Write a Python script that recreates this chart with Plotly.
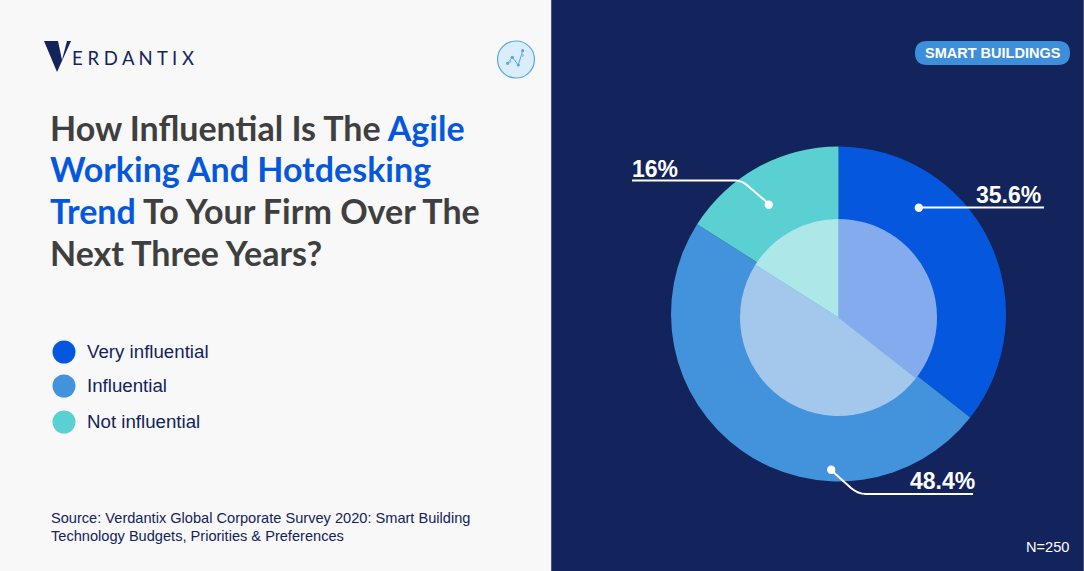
import plotly.graph_objects as go

categories = ["Very influential", "Influential", "Not influential"]
values = [35.6, 48.4, 16]
value_labels = ["35.6%", "48.4%", "16%"]
outer_colors = ["#0558de", "#4292dc", "#5bd0d3"]
inner_colors = ["#85abef", "#a3c8ec", "#ade7e7"]

title_lines = [
    'How Influential Is The <span style="color:#0558de">Agile</span>',
    '<span style="color:#0558de">Working And Hotdesking</span>',
    '<span style="color:#0558de">Trend</span> To Your Firm Over The',
    "Next Three Years?",
]
source_lines = [
    "Source: Verdantix Global Corporate Survey 2020: Smart Building",
    "Technology Budgets, Priorities &amp; Preferences",
]

W, H = 1084, 571
NAVY = "#13235b"
WHITE = "#ffffff"
ICON = "#58a6dc"


def dom(cx, cy, r):
    return dict(x=[(cx - r) / W, (cx + r) / W], y=[(H - cy - r) / H, (H - cy + r) / H])


def label(x, y, text, size, color, family="Liberation Sans", anchor="left"):
    return dict(x=x, y=y, xref="x", yref="y", text=text, showarrow=False, xanchor=anchor,
                yanchor="middle", borderpad=0, font=dict(size=size, color=color, family=family))


def dot(cx, cy, r, color):
    return dict(type="circle", x0=cx - r, x1=cx + r, y0=cy - r, y1=cy + r, fillcolor=color, line_width=0)


fig = go.Figure()

# donut plus the lighter pie on top of it
fig.add_trace(go.Pie(values=values, labels=categories, sort=False, direction="clockwise", rotation=0,
                     textinfo="none", hoverinfo="label+percent", domain=dom(838.5, 314, 167.5),
                     marker=dict(colors=outer_colors, line=dict(width=0)), showlegend=False))
fig.add_trace(go.Pie(values=values, labels=categories, sort=False, direction="clockwise", rotation=0,
                     textinfo="none", hoverinfo="label+percent", domain=dom(838.5, 317.5, 98.5),
                     marker=dict(colors=inner_colors, line=dict(width=0)), showlegend=False))

# legend swatches
legend_y = [352, 386, 422]
fig.add_trace(go.Scatter(x=[64, 64, 64], y=legend_y, mode="markers", hoverinfo="skip", showlegend=False,
                         marker=dict(size=23, color=outer_colors, line=dict(width=0))))

shapes = [
    dict(type="rect", x0=0, x1=551, y0=0, y1=H, fillcolor="#f8f8f8", line_width=0, layer="below"),
    dict(type="rect", x0=551, x1=W, y0=0, y1=H, fillcolor=NAVY, line_width=0, layer="below"),
    dict(type="rect", x0=551, x1=552, y0=0, y1=H, fillcolor="#4a5785", line_width=0, layer="below"),
    dict(type="rect", x0=1083, x1=W, y0=0, y1=H, fillcolor="#4a5785", line_width=0, layer="below"),
    # logo V
    dict(type="path", path="M44,41 L58,41 L62,60 L67,41 L71,41 L57,72 Z", fillcolor=NAVY, line_width=0),
    # icon
    dict(type="circle", x0=497.5, x1=534.5, y0=41, y1=78, fillcolor="#d9edfd",
         line=dict(color=ICON, width=1.2)),
    dict(type="path", path="M507.7,63.3 L512.3,57.3 L518.3,65 L522.7,50.7", line=dict(color=ICON, width=1)),
    dot(507.7, 63.3, 1.6, ICON), dot(512.3, 57.3, 1.6, ICON), dot(518.3, 65, 1.6, ICON),
    dot(522.7, 50.7, 1.6, ICON), dot(510, 61.5, 1.2, "#8cc3ea"), dot(522.5, 55.5, 1.4, "#8cc3ea"),
    # pill
    dict(type="path", path="M927,41 L1058,41 Q1070,41 1070,53 Q1070,65 1058,65 L927,65 Q915,65 915,53 Q915,41 927,41 Z",
         fillcolor="#3d8fdb", line_width=0),
    # leader lines
    dict(type="path", path="M918,207.5 L1044,207.5", line=dict(color=WHITE, width=2)),
    dict(type="path", path="M632,180.5 L735,180.5 Q742,180.5 748,186 L769,204", line=dict(color=WHITE, width=2)),
    dict(type="path", path="M831,470 L851,488 Q858,494 866,494 L973,494", line=dict(color=WHITE, width=2)),
    dot(918.8, 207.7, 4.2, WHITE),
    dot(768.8, 204.7, 4.2, WHITE),
    dot(831.2, 469.7, 4.2, WHITE),
]

annotations = [
    label(70.5, 58, "E R D A N T I X", 18.5, NAVY, "Lato"),
    label(992.5, 53, "<b>SMART BUILDINGS</b>", 14.5, WHITE, anchor="center"),
    label(1070, 547, "N=250", 14.6, WHITE, anchor="right"),
    label(1042, 195, "<b>%s</b>" % value_labels[0], 23, WHITE, anchor="right"),
    label(976, 481, "<b>%s</b>" % value_labels[1], 23, WHITE, anchor="right"),
    label(631, 169, "<b>%s</b>" % value_labels[2], 23, WHITE),
]
for y, line in zip([127, 168, 210, 252], title_lines):
    annotations.append(label(48.5, y, "<b>%s</b>" % line, 34, "#3f3f3f", "Lato"))
for y, cat in zip(legend_y, categories):
    annotations.append(label(86, y - 1, cat, 18.7, NAVY))
for y, line in zip([518, 536], source_lines):
    annotations.append(label(50, y, line, 14.6, NAVY))

fig.update_layout(
    width=W, height=H, margin=dict(l=0, r=0, t=0, b=0),
    paper_bgcolor="#f8f8f8", plot_bgcolor="rgba(0,0,0,0)",
    xaxis=dict(range=[0, W], visible=False, fixedrange=True),
    yaxis=dict(range=[H, 0], visible=False, fixedrange=True),
    shapes=shapes, annotations=annotations, showlegend=False,
)

fig.write_html("out.html", config=dict(displayModeBar=False),
               post_script="document.body.style.margin='0';")
